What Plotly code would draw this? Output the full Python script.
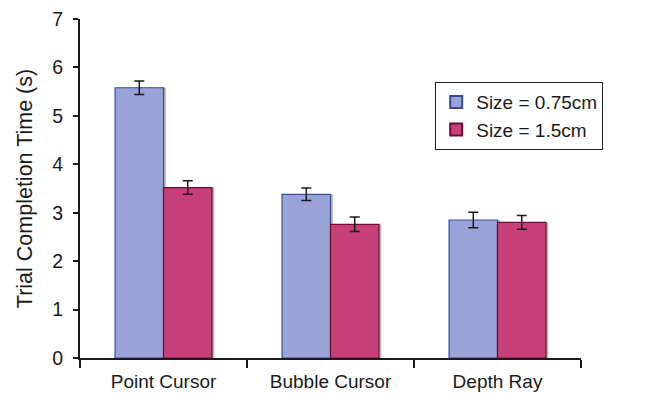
import plotly.graph_objects as go

# Mean trial completion time per technique and target size, with error margins
techniques = ["Point Cursor", "Bubble Cursor", "Depth Ray"]
small_means = [5.58, 3.38, 2.85]
small_err = [0.14, 0.13, 0.16]
large_means = [3.52, 2.76, 2.80]
large_err = [0.14, 0.15, 0.14]
series_names = ["Size = 0.75cm", "Size = 1.5cm"]
y_ticks = [0, 1, 2, 3, 4, 5, 6, 7]

FONT = "Liberation Sans, Arial, sans-serif"
BAR_W = 0.29
SHADOW_SHIFT = 0.014

fig = go.Figure()

series = [
    (small_means, small_err, series_names[0], "#9aa3d8", "#3b4a9c", -BAR_W),
    (large_means, large_err, series_names[1], "#c8407a", "#6e0b34", 0.0),
]

# soft drop shadows behind each bar
for means, _, _, _, _, off in series:
    fig.add_trace(go.Bar(
        x=techniques, y=means, offset=off + SHADOW_SHIFT, width=BAR_W,
        marker=dict(color="rgba(120,120,120,0.55)", line=dict(width=0)),
        showlegend=False, hoverinfo="skip",
    ))

for means, err, name, fill, edge, off in series:
    fig.add_trace(go.Bar(
        x=techniques, y=means, name=name, offset=off, width=BAR_W,
        marker=dict(color=fill, line=dict(color=edge, width=1.2)),
        error_y=dict(type="data", array=err, visible=True,
                     color="#1a1a1a", thickness=1.5, width=5),
    ))

fig.update_layout(
    width=668, height=395,
    margin=dict(l=80, r=87, t=19, b=37),
    barmode="overlay",
    plot_bgcolor="white", paper_bgcolor="white",
    font=dict(family=FONT, size=19, color="#1a1a1a"),
    showlegend=True,
    legend=dict(
        x=0.709, y=0.814, xanchor="left", yanchor="top",
        bordercolor="#222", borderwidth=1, bgcolor="white",
        font=dict(family=FONT, size=19, color="#1a1a1a"),
        tracegroupgap=0, itemsizing="constant",
    ),
    xaxis=dict(
        showline=True, linecolor="#1a1a1a", linewidth=2,
        ticks="outside", ticklen=8, tickwidth=1.5, tickcolor="#1a1a1a",
        tickson="boundaries", showgrid=False, zeroline=False,
        ticklabelstandoff=5, automargin=False,
        tickfont=dict(family=FONT, size=19, color="#1a1a1a"),
    ),
    yaxis=dict(
        range=[0, 7], tickvals=y_ticks,
        showline=True, linecolor="#1a1a1a", linewidth=2,
        ticks="outside", ticklen=5, tickwidth=1.5, tickcolor="#1a1a1a",
        showgrid=False, zeroline=False,
        ticklabelstandoff=6, automargin=False,
        tickfont=dict(family=FONT, size=19.5, color="#1a1a1a"),
        title=dict(text="Trial Completion Time (s)", standoff=14,
                   font=dict(family=FONT, size=21.5, color="#1a1a1a")),
    ),
)

fig.write_html("out.html")
